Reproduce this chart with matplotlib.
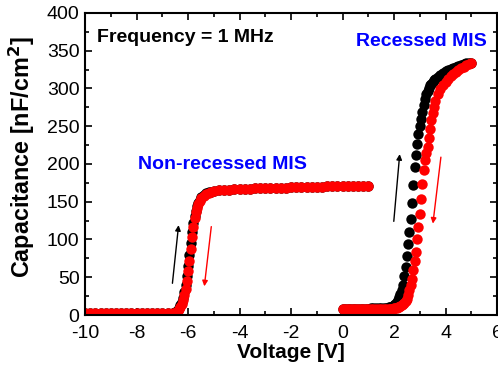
import matplotlib.pyplot as plt
from matplotlib.ticker import MultipleLocator

plt.rcParams['font.family'] = ['Liberation Sans', 'DejaVu Sans']
plt.rcParams['axes.unicode_minus'] = False

# ---- non-recessed MIS, forward (black) and reverse (red) sweep
nr_volt = [-10.0, -9.8, -9.6, -9.4, -9.2, -9.0, -8.8, -8.6, -8.4, -8.2,
           -8.0, -7.8, -7.6, -7.4, -7.2, -7.0, -6.8, -6.6,
           -6.5, -6.45, -6.4, -6.35, -6.3, -6.25, -6.2, -6.15, -6.1, -6.05,
           -6.0, -5.95, -5.9, -5.85, -5.8, -5.75, -5.7, -5.65, -5.6, -5.55, -5.5,
           -5.4, -5.3, -5.2, -5.1, -5.0,
           -4.8, -4.6, -4.4, -4.2, -4.0, -3.8, -3.6, -3.4, -3.2, -3.0,
           -2.8, -2.6, -2.4, -2.2, -2.0, -1.8, -1.6, -1.4, -1.2, -1.0,
           -0.8, -0.6, -0.4, -0.2, 0.0, 0.2, 0.4, 0.6, 0.8, 1.0]
nr_fwd = [2.0, 2.0, 2.0, 2.0, 2.0, 2.0, 2.0, 2.0, 2.0, 2.0,
          2.0, 2.0, 2.0, 2.1, 2.1, 2.2, 2.4, 2.8,
          3.5, 4.5, 6.5, 9.5, 13, 17.5, 23, 31, 40, 51,
          65, 79, 95, 110, 122, 131, 138, 144, 148.5, 152, 156,
          158.5, 161, 162.5, 163.5, 164.5,
          165, 165.5, 166, 166.3, 166.6, 166.9, 167.2, 167.5, 167.8, 168.0,
          168.2, 168.4, 168.6, 168.8, 169.0, 169.2, 169.4, 169.6, 169.8, 170.0,
          170.1, 170.2, 170.3, 170.4, 170.5, 170.6, 170.7, 170.8, 170.9, 171.0]
nr_rev = [2.0, 2.0, 2.0, 2.0, 2.0, 2.0, 2.0, 2.0, 2.0, 2.0,
          2.0, 2.0, 2.0, 2.1, 2.1, 2.2, 2.3, 2.6,
          3.2, 4.0, 5.5, 8, 11, 15, 20, 27, 35, 45,
          58, 71, 87, 103, 117, 128, 136, 142, 147, 151, 155,
          158, 160.5, 162, 163, 164,
          165, 165.5, 166, 166.3, 166.6, 166.9, 167.2, 167.5, 167.8, 168.0,
          168.2, 168.4, 168.6, 168.8, 169.0, 169.2, 169.4, 169.6, 169.8, 170.0,
          170.1, 170.2, 170.3, 170.4, 170.5, 170.6, 170.7, 170.8, 170.9, 171.0]

# ---- recessed MIS
rc_volt = [0.0, 0.1, 0.2, 0.3, 0.4, 0.5, 0.6, 0.7, 0.8, 0.9,
           1.0, 1.1, 1.2, 1.3, 1.4, 1.5, 1.6, 1.7, 1.8,
           1.85, 1.9, 1.95, 2.0, 2.05, 2.1, 2.15, 2.2, 2.25, 2.3,
           2.35, 2.4, 2.45, 2.5, 2.55, 2.6, 2.65, 2.7, 2.75, 2.8,
           2.85, 2.9, 2.95, 3.0, 3.05, 3.1, 3.15, 3.2, 3.25, 3.3,
           3.35, 3.4, 3.45, 3.5, 3.55, 3.6,
           3.7, 3.8, 3.9, 4.0, 4.1, 4.2, 4.3, 4.4, 4.5, 4.6,
           4.7, 4.8, 4.9, 5.0]
rc_fwd = [8.5, 8.5, 8.5, 8.5, 8.5, 8.5, 8.5, 8.5, 8.6, 8.6,
          8.6, 8.7, 8.7, 8.8, 8.9, 9.0, 9.2, 9.5, 10.0,
          10.5, 11, 12, 13, 15, 17, 20, 24, 28, 33,
          40, 51, 64, 78, 94, 110, 127, 148, 172, 196,
          212, 226, 240, 250, 259, 269, 278, 286, 292, 297,
          301, 304, 306.5, 308.5, 310.5, 312,
          315, 318, 320.5, 322.5, 324.5, 326, 327.5, 329, 330, 331,
          332, 333, 333.5, 334]
rc_rev = [7.5, 7.5, 7.5, 7.5, 7.5, 7.5, 7.5, 7.5, 7.5, 7.5,
          7.5, 7.5, 7.5, 7.5, 7.6, 7.7, 7.8, 7.9, 8.0,
          8.2, 8.4, 8.6, 8.9, 9.2, 9.6, 10.2, 11, 12, 13,
          14.5, 16, 18, 21, 26, 33, 40, 48, 59, 71,
          84, 100, 117, 134, 153, 173, 192, 205, 214, 223,
          234, 246, 258, 267, 276, 283,
          292, 299, 304.5, 309, 313, 316.5, 319.5, 322, 324.5, 326.5,
          328.5, 330.5, 332.5, 334]

fig = plt.figure(figsize=(4.98, 3.68), dpi=100)
ax = fig.add_axes([0.171, 0.144, 0.827, 0.821])

ms = 7.5
ax.plot(nr_volt, nr_fwd, 'o', color='black', ms=ms, mew=0)
ax.plot(rc_volt, rc_fwd, 'o', color='black', ms=ms, mew=0)
ax.plot(nr_volt, nr_rev, 'o', color='red', ms=ms, mew=0)
ax.plot(rc_volt, rc_rev, 'o', color='red', ms=ms, mew=0)

# sweep direction arrows
arrow_kw = dict(arrowstyle='-|>', lw=1, mutation_scale=8, shrinkA=0, shrinkB=0)
ax.annotate('', xy=(-6.37, 119), xytext=(-6.61, 42),
            arrowprops=dict(color='black', **arrow_kw))
ax.annotate('', xy=(-5.37, 38), xytext=(-5.10, 117),
            arrowprops=dict(color='red', **arrow_kw))
ax.annotate('', xy=(2.22, 213), xytext=(1.99, 124),
            arrowprops=dict(color='black', **arrow_kw))
ax.annotate('', xy=(3.51, 121), xytext=(3.82, 209),
            arrowprops=dict(color='red', **arrow_kw))

ax.text(-9.53, 367, 'Frequency = 1 MHz', fontsize=14, fontweight='bold',
        va='center', ha='left')
ax.text(5.61, 362, 'Recessed MIS', fontsize=14, fontweight='bold',
        color='blue', va='center', ha='right')
ax.text(-7.94, 199, 'Non-recessed MIS', fontsize=14, fontweight='bold',
        color='blue', va='center', ha='left')

ax.set_xlim(-10, 6)
ax.set_ylim(0, 400)
ax.xaxis.set_major_locator(MultipleLocator(2))
ax.xaxis.set_minor_locator(MultipleLocator(1))
ax.yaxis.set_major_locator(MultipleLocator(50))
ax.yaxis.set_minor_locator(MultipleLocator(25))
ax.tick_params(which='both', direction='in', top=True, right=True, width=1.2)
ax.tick_params(which='major', length=5, labelsize=14)
ax.tick_params(which='minor', length=3)
ax.tick_params(axis='x', which='major', pad=7)
ax.tick_params(axis='y', which='major', pad=4)
for s in ax.spines.values():
    s.set_linewidth(1.5)

ax.set_xlabel('Voltage [V]', fontsize=15, fontweight='bold')
ax.set_ylabel('Capacitance [nF/cm$^\\mathbf{2}$]', fontsize=16.8,
              fontweight='bold')
ax.xaxis.set_label_coords(0.5, -0.094)
ax.yaxis.set_label_coords(-0.118, 0.523)

fig.savefig('out.png', dpi=100)
